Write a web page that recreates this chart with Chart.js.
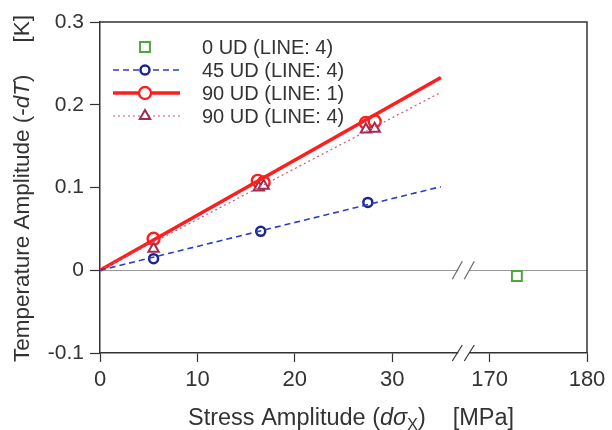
<!DOCTYPE html>
<html>
<head>
<meta charset="utf-8">
<script src="https://cdn.jsdelivr.net/npm/chart.js@4/dist/chart.umd.min.js"></script>
<style>
  html, body { margin: 0; padding: 0; background: #fff; }
  #wrap { width: 612px; height: 430px; }
</style>
</head>
<body>
<div id="wrap"><canvas id="c" width="612" height="430"></canvas></div>
<script>
// Données (MPa, K)
const ud0X = [172.8];
const ud0Y = [-0.007];

const ud45X = [5.5, 16.5, 27.5];
const ud45Y = [0.014, 0.047, 0.082];

const ud90L1X = [5.5, 16.2, 16.8, 27.3, 28.2];
const ud90L1Y = [0.038, 0.108, 0.106, 0.178, 0.180];

const ud90L4X = [5.5, 16.3, 16.8, 27.3, 28.2];
const ud90L4Y = [0.026, 0.100, 0.102, 0.170, 0.171];

// droites de régression (passant par l'origine)
const fitX = [0, 35];
const fit45Y = [0, 0.101];
const fit90L1Y = [0, 0.233];
const fit90L4Y = [0, 0.215];

const xTicks = [0, 10, 20, 30, 170, 180];
const yTicks = [-0.1, 0, 0.1, 0.2, 0.3];

const legendLabels = ['0 UD (LINE: 4)', '45 UD (LINE: 4)', '90 UD (LINE: 1)', '90 UD (LINE: 4)'];

// axe coupé : 170..180 MPa affichés juste après 30
const OFFSET = 130;
const toAxis = v => (v > 100 ? v - OFFSET : v);
const fromAxis = v => (v > 35 ? v + OFFSET : v);
const BREAK_AT = 37.3;

const pts = (xs, ys) => xs.map((x, i) => ({ x: toAxis(x), y: ys[i] }));

const RED = '#ff1e1e';
const BLUE = '#2a3fc4';
const BLUE_D = '#1a2590';
const PINK = '#c8587a';
const PINK_D = '#a02c50';
const GREEN = '#4fa83c';
const INK = '#333';
const FONT = 'Liberation Sans, Arial, sans-serif';

const datasets = [
  { label: 'fit45', data: pts(fitX, fit45Y), showLine: true, borderColor: BLUE, borderWidth: 1.6,
    borderDash: [6, 4], pointRadius: 0 },
  { label: 'fit90L4', data: pts(fitX, fit90L4Y), showLine: true, borderColor: PINK, borderWidth: 1.2,
    borderDash: [2, 3], pointRadius: 0 },
  { label: 'fit90L1', data: pts(fitX, fit90L1Y), showLine: true, borderColor: RED, borderWidth: 3.5,
    pointRadius: 0 },
  { label: legendLabels[0], data: pts(ud0X, ud0Y), showLine: false, pointStyle: 'rect',
    pointRadius: 7, borderColor: GREEN, backgroundColor: '#fff', pointBorderWidth: 2 },
  { label: legendLabels[1], data: pts(ud45X, ud45Y), showLine: false, pointStyle: 'circle',
    pointRadius: 4.5, borderColor: BLUE_D, backgroundColor: '#fff', pointBorderWidth: 2.5 },
  { label: legendLabels[3], data: pts(ud90L4X, ud90L4Y), showLine: false, pointStyle: 'triangle',
    pointRadius: 6, borderColor: PINK_D, backgroundColor: '#fff', pointBorderWidth: 2 },
  { label: legendLabels[2], data: pts(ud90L1X, ud90L1Y), showLine: false, pointStyle: 'circle',
    pointRadius: 6, borderColor: RED, backgroundColor: '#fff', pointBorderWidth: 2.4 },
];

// cadre, coupures, légende et titres d'axes
const deco = {
  id: 'deco',
  afterDraw(chart) {
    const { ctx, chartArea: a, scales } = chart;
    const xs = scales.x, ys = scales.y;
    ctx.save();
    ctx.strokeStyle = INK;
    ctx.lineWidth = 1.5;
    ctx.beginPath();
    ctx.moveTo(a.left, a.top); ctx.lineTo(a.right, a.top); ctx.lineTo(a.right, a.bottom);
    ctx.stroke();

    // marques de coupure
    const bx = xs.getPixelForValue(BREAK_AT);
    const drawBreak = (y, color, h) => {
      ctx.fillStyle = '#fff';
      ctx.fillRect(bx - 5, y - 3, 11, 6);
      ctx.strokeStyle = color;
      ctx.lineWidth = 1.2;
      [-6, 6].forEach(d => {
        ctx.beginPath();
        ctx.moveTo(bx + d - 5, y + h / 2);
        ctx.lineTo(bx + d + 5, y - h / 2);
        ctx.stroke();
      });
    };
    drawBreak(ys.getPixelForValue(0), '#666', 18);
    drawBreak(a.bottom, INK, 16);

    // légende
    const lx0 = 113, lx1 = 180, lcx = 145, tx = 202;
    const rows = [47, 70, 93, 116];
    const sample = [
      { line: null },
      { line: BLUE, w: 1.6, dash: [6, 4] },
      { line: RED, w: 3.5, dash: [] },
      { line: PINK, w: 1.2, dash: [2, 3] },
    ];
    const markDs = [3, 4, 6, 5];
    rows.forEach((y, i) => {
      const s = sample[i];
      if (s.line) {
        ctx.strokeStyle = s.line;
        ctx.lineWidth = s.w;
        ctx.setLineDash(s.dash);
        ctx.beginPath(); ctx.moveTo(lx0, y); ctx.lineTo(lx1, y); ctx.stroke();
        ctx.setLineDash([]);
      }
      const ds = datasets[markDs[i]];
      ctx.strokeStyle = ds.borderColor;
      ctx.fillStyle = '#fff';
      ctx.lineWidth = ds.pointBorderWidth;
      Chart.helpers.drawPoint(ctx, { pointStyle: ds.pointStyle, radius: ds.pointRadius, borderWidth: ds.pointBorderWidth }, lcx, y);
      ctx.fillStyle = INK;
      ctx.font = '20px ' + FONT;
      ctx.textBaseline = 'middle';
      ctx.textAlign = 'left';
      ctx.fillText(legendLabels[i], tx, y + 1);
    });

    // titres d'axes (italiques et indice)
    const run = (parts, x, y, size) => {
      parts.forEach(p => {
        ctx.font = (p.it ? 'italic ' : '') + (p.sz || size) + 'px ' + FONT;
        ctx.fillText(p.t, x, y + (p.dy || 0));
        x += ctx.measureText(p.t).width + (p.gap || 0);
      });
    };
    ctx.fillStyle = INK;
    ctx.textBaseline = 'alphabetic';
    ctx.textAlign = 'left';
    run([
      { t: 'Stress Amplitude (' }, { t: 'd', it: true }, { t: 'σ', it: true },
      { t: 'X', sz: 16, dy: 5 }, { t: ')', gap: 27 }, { t: '[MPa]' }
    ], 188, 425, 23.5);

    ctx.save();
    ctx.translate(29, 362);
    ctx.rotate(-Math.PI / 2);
    run([
      { t: 'Temperature Amplitude (-' }, { t: 'dT', it: true }, { t: ')', gap: 32 }, { t: '[K]' }
    ], 0, 0, 22.5);
    ctx.restore();
    ctx.restore();
  }
};

new Chart(document.getElementById('c'), {
  type: 'scatter',
  data: { datasets: datasets },
  options: {
    responsive: false,
    animation: false,
    events: [],
    layout: { padding: { top: 22, right: 25, left: 0, bottom: 0 } },
    plugins: { legend: { display: false }, tooltip: { enabled: false } },
    scales: {
      x: {
        type: 'linear', min: 0, max: 50,
        afterBuildTicks: s => { s.ticks = xTicks.map(v => ({ value: toAxis(v) })); },
        afterFit: s => { s.height = 77; },
        ticks: {
          color: INK, padding: 5, maxRotation: 0,
          font: { family: FONT, size: 22 },
          callback: v => String(Math.round(fromAxis(v))),
        },
        grid: { drawOnChartArea: false, tickLength: 9, tickColor: INK, tickWidth: 1.2 },
        border: { color: INK, width: 1.5 },
      },
      y: {
        type: 'linear', min: -0.1, max: 0.3,
        afterBuildTicks: s => { s.ticks = yTicks.map(v => ({ value: v })); },
        afterFit: s => { s.width = 100; },
        ticks: {
          color: INK, padding: 6,
          font: { family: FONT, size: 21 },
          callback: v => { const r = Math.round(v * 10) / 10; return r === 0 ? '0' : r.toFixed(1); },
        },
        grid: {
          tickLength: 10, tickColor: INK, tickWidth: 1.2, lineWidth: 1,
          color: c => (c.tick && Math.abs(c.tick.value) < 1e-9 ? '#9a9a9a' : 'rgba(0,0,0,0)'),
        },
        border: { color: INK, width: 1.5 },
      }
    }
  },
  plugins: [deco]
});
</script>
</body>
</html>
